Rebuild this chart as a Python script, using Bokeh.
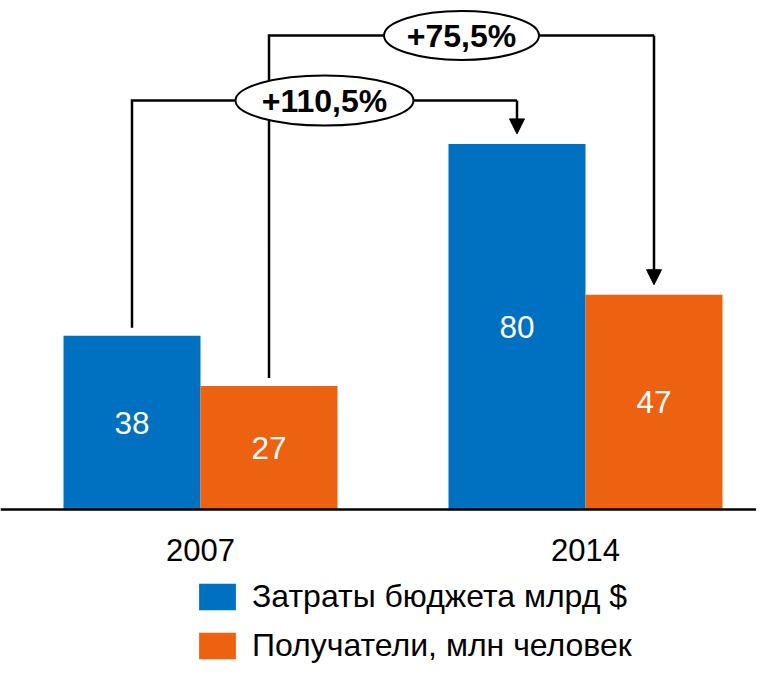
from bokeh.plotting import figure
from bokeh.models import Range1d, Span, Arrow, NormalHead, Legend, LegendItem, ColumnDataSource
from bokeh.core.properties import value
from bokeh.embed import file_html
from bokeh.resources import INLINE

# ---- data ----
years = ["2007", "2014"]
budget = [38, 80]          # Затраты бюджета, млрд $
recipients = [27, 47]      # Получатели, млн человек
growth_labels = ["+110,5%", "+75,5%"]
series_names = ["Затраты бюджета млрд $", "Получатели, млн человек"]

# ---- layout constants ----
W, H = 756, 664
PX_PER_UNIT = 4.57          # vertical pixels per value unit
BASE_PX = 509               # canvas y of baseline
GROUP_PX = 385              # horizontal pixels per group
G0_PX = 200                 # canvas x of first group centre

def dx(px):
    return px / GROUP_PX

def dy(px):
    return px / PX_PER_UNIT

BLUE = "#0070C0"
ORANGE = "#ED6210"
FONT = "Liberation Sans"

p = figure(width=W, height=H, output_backend="svg", toolbar_location=None,
           x_range=Range1d(-G0_PX / GROUP_PX, (W - G0_PX) / GROUP_PX),
           y_range=Range1d(-(H - BASE_PX) / PX_PER_UNIT, BASE_PX / PX_PER_UNIT),
           min_border=0, outline_line_color=None)
p.axis.visible = False
p.grid.visible = False
p.background_fill_color = "white"

off = dx(68.5)
bw = dx(137)
idx = list(range(len(years)))
xb = [i - off for i in idx]
xo = [i + off for i in idx]

src_b = ColumnDataSource(dict(x=xb, top=budget, mid=[v / 2 for v in budget], lab=[str(v) for v in budget]))
src_o = ColumnDataSource(dict(x=xo, top=recipients, mid=[v / 2 for v in recipients], lab=[str(v) for v in recipients]))

rb = p.vbar(x="x", top="top", bottom=0, width=bw, source=src_b, fill_color=BLUE, line_color=None)
ro = p.vbar(x="x", top="top", bottom=0, width=bw, source=src_o, fill_color=ORANGE, line_color=None)

for s in (src_b, src_o):
    p.text(x="x", y="mid", text="lab", source=s, text_color="white",
           text_font=value(FONT), text_font_size="31.5px",
           text_align="center", text_baseline="middle")

# baseline
p.add_layout(Span(location=0, dimension="width", line_color="black", line_width=2.5))

# year labels
p.text(x=idx, y=[dy(-40)] * len(idx), text=years, text_color="black",
       text_font=value(FONT), text_font_size="31px",
       text_align="center", text_baseline="middle")

# growth brackets
levels = [dy(409), dy(474)]
pairs = [(xb[0], budget[0], xb[1], budget[1]),
         (xo[0], recipients[0], xo[1], recipients[1])]
ell_w = [178, 155]
ell_h = [50, 49]
for (xa, va, xe, ve), lev in zip(pairs, levels):
    p.line(x=[xa, xa, xe], y=[va + dy(8), lev, lev], line_color="black",
           line_width=2.5, line_join="miter")
    p.add_layout(Arrow(x_start=xe, y_start=lev, x_end=xe, y_end=ve + dy(10),
                       line_color="black", line_width=2.5,
                       end=NormalHead(size=15, fill_color="black", line_color="black", line_width=1)))

ex = [(a[0] + a[2]) / 2 for a in pairs]
p.ellipse(x=ex, y=levels, width=ell_w, height=ell_h, width_units="screen", height_units="screen",
          fill_color="white", line_color="black", line_width=2)
p.text(x=ex, y=levels, text=growth_labels, text_color="black",
       text_font=value(FONT), text_font_size="32px", text_font_style="bold",
       text_align="center", text_baseline="middle")

legend = Legend(items=[LegendItem(label=series_names[0], renderers=[rb]),
                       LegendItem(label=series_names[1], renderers=[ro])],
                location=(194, 0), orientation="vertical",
                glyph_width=46, glyph_height=33, label_height=33,
                label_standoff=12, spacing=12, padding=0, margin=0,
                border_line_color=None, background_fill_alpha=0,
                label_text_font=FONT, label_text_font_size="32px",
                label_text_color="black")
p.add_layout(legend)

open("out.html", "w").write(file_html(p, INLINE))
